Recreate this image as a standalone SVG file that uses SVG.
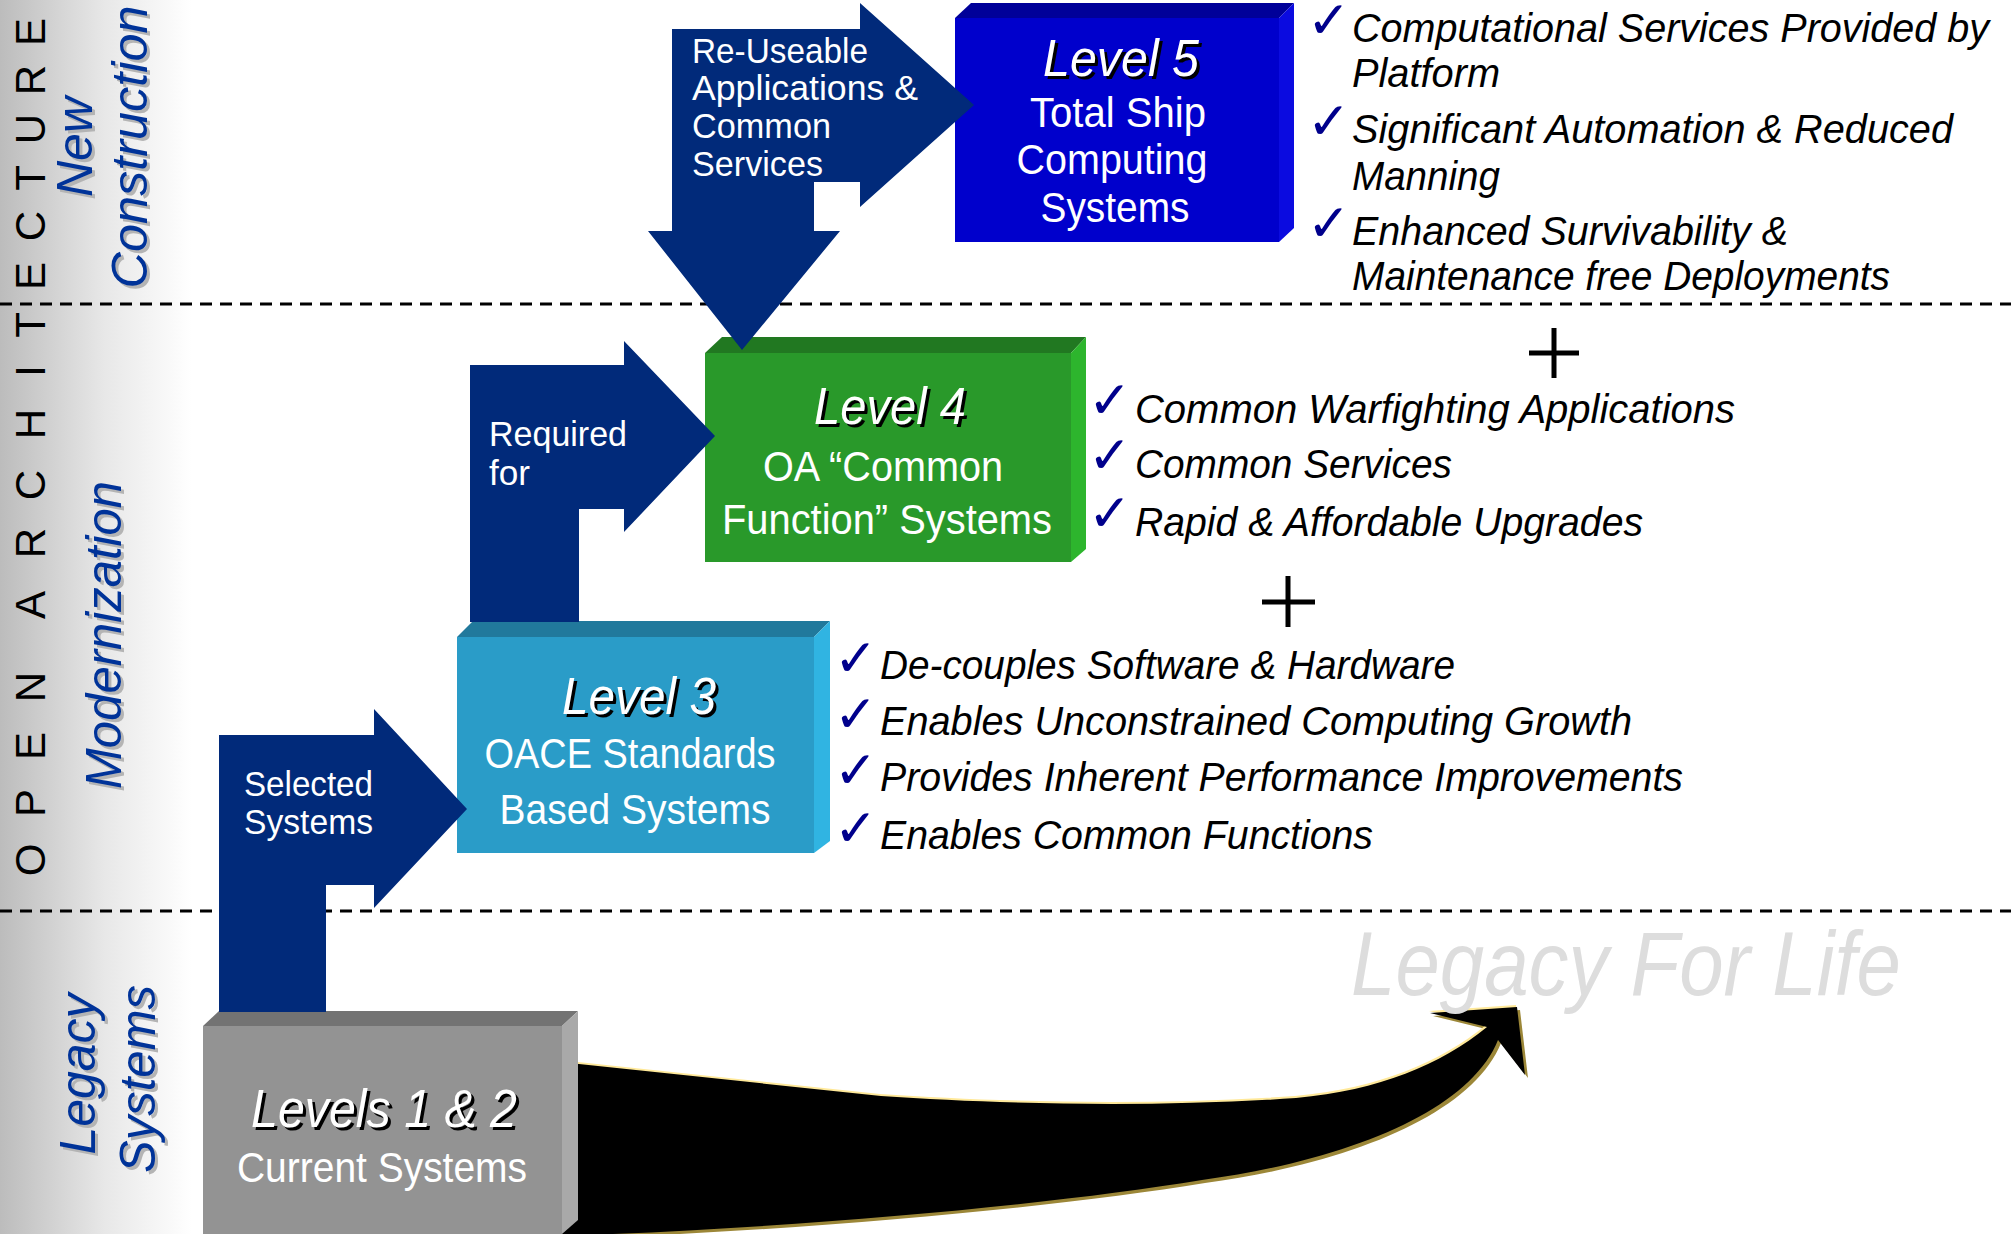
<svg xmlns="http://www.w3.org/2000/svg" width="2011" height="1234" viewBox="0 0 2011 1234">
<defs>
<linearGradient id="band" x1="0" y1="0" x2="1" y2="0">
<stop offset="0" stop-color="#bcbcbc"/>
<stop offset="0.55" stop-color="#e8e8e8"/>
<stop offset="1" stop-color="#ffffff"/>
</linearGradient>
<path id="curve" d="M 560,1062 L 881,1096 C 1000,1104 1150,1108 1296,1098 C 1380,1090 1440,1065 1487,1027 L 1430,1013 L 1517,1007 L 1525,1075 L 1498,1040 C 1470,1110 1350,1160 1202,1180 C 1050,1205 800,1228 560,1236 Z"/>
</defs>
<style>
text{font-family:'Liberation Sans',Arial,Helvetica,sans-serif}
.w{fill:#ffffff}
.sh{fill:#000000}
.it{font-style:italic}
.title{font-size:52px;font-style:italic}
.body{font-size:42px}
.arr{font-size:35px;fill:#ffffff}
.bul{font-size:40px;font-style:italic;fill:#000000}
.chk{font-family:'DejaVu Sans',sans-serif;font-size:52px;fill:#00008c}
.side{font-size:50px;font-style:italic;fill:#003399}
.sideS{font-size:50px;font-style:italic;fill:#b4b4b4}
.dash{stroke:#000000;stroke-width:3;stroke-dasharray:12 8;fill:none}
.plus{stroke:#000000;stroke-width:5;fill:none}
.conn{fill:#012a7a}
</style>

<rect x="0" y="0" width="2011" height="1234" fill="#ffffff"/>
<rect x="0" y="0" width="192" height="1234" fill="url(#band)"/>

<g id="side-labels">
<text transform="translate(45,0) rotate(-90)" font-size="42" fill="#000000" text-anchor="middle" x="-860 -803 -746 -687 -646 -605 -543 -485 -424 -371 -325 -276 -226 -178 -129 -80 -32">OPEN ARCHITECTURE</text>
<g transform="translate(95,150) rotate(-90)"><text class="sideS" text-anchor="middle" textLength="100" lengthAdjust="spacingAndGlyphs">New</text></g>
<g transform="translate(92,147) rotate(-90)"><text class="side" text-anchor="middle" textLength="100" lengthAdjust="spacingAndGlyphs">New</text></g>
<g transform="translate(150,150) rotate(-90)"><text class="sideS" text-anchor="middle" textLength="283" lengthAdjust="spacingAndGlyphs">Construction</text></g>
<g transform="translate(147,147) rotate(-90)"><text class="side" text-anchor="middle" textLength="283" lengthAdjust="spacingAndGlyphs">Construction</text></g>
<g transform="translate(124,638) rotate(-90)"><text class="sideS" text-anchor="middle" textLength="308" lengthAdjust="spacingAndGlyphs">Modernization</text></g>
<g transform="translate(121,635) rotate(-90)"><text class="side" text-anchor="middle" textLength="308" lengthAdjust="spacingAndGlyphs">Modernization</text></g>
<g transform="translate(98,1077) rotate(-90)"><text class="sideS" text-anchor="middle" textLength="161" lengthAdjust="spacingAndGlyphs">Legacy</text></g>
<g transform="translate(95,1074) rotate(-90)"><text class="side" text-anchor="middle" textLength="161" lengthAdjust="spacingAndGlyphs">Legacy</text></g>
<g transform="translate(158,1082) rotate(-90)"><text class="sideS" text-anchor="middle" textLength="188" lengthAdjust="spacingAndGlyphs">Systems</text></g>
<g transform="translate(155,1079) rotate(-90)"><text class="side" text-anchor="middle" textLength="188" lengthAdjust="spacingAndGlyphs">Systems</text></g>
</g>

<g id="dividers">
<line class="dash" x1="0" y1="304" x2="2011" y2="304"/>
<line class="dash" x1="0" y1="911" x2="2011" y2="911"/>
</g>

<g id="legacy-arrow">
<use href="#curve" transform="translate(3,3)" fill="#9c8738"/>
<use href="#curve" transform="translate(-1,-2)" fill="#ffe99a"/>
<use href="#curve" fill="#000000"/>
<text class="it" x="1351" y="995" font-size="90" fill="#dddddd" textLength="550" lengthAdjust="spacingAndGlyphs">Legacy For Life</text>
</g>

<g id="level5">
<polygon points="955,18 1279,18 1279,242 955,242" fill="#0000cc"/>
<polygon points="955,18 971,3 1294,3 1279,18" fill="#000099"/>
<polygon points="1279,18 1294,3 1294,228 1279,242" fill="#0b0be0"/>
<text class="title sh" x="1124" y="79" text-anchor="middle" textLength="156" lengthAdjust="spacingAndGlyphs">Level 5</text>
<text class="title w" x="1121" y="76" text-anchor="middle" textLength="156" lengthAdjust="spacingAndGlyphs">Level 5</text>
<text class="body w" x="1118" y="127" text-anchor="middle" textLength="176" lengthAdjust="spacingAndGlyphs">Total Ship</text>
<text class="body w" x="1112" y="174" text-anchor="middle" textLength="191" lengthAdjust="spacingAndGlyphs">Computing</text>
<text class="body w" x="1115" y="222" text-anchor="middle" textLength="149" lengthAdjust="spacingAndGlyphs">Systems</text>
</g>

<g id="level4">
<polygon points="705,353 1071,353 1071,562 705,562" fill="#29992a"/>
<polygon points="705,353 722,337 1086,337 1071,353" fill="#217821"/>
<polygon points="1071,353 1086,337 1086,549 1071,562" fill="#2db52d"/>
<text class="title sh" x="893" y="427" text-anchor="middle" textLength="152" lengthAdjust="spacingAndGlyphs">Level 4</text>
<text class="title w" x="890" y="424" text-anchor="middle" textLength="152" lengthAdjust="spacingAndGlyphs">Level 4</text>
<text class="body w" x="883" y="481" text-anchor="middle" textLength="240" lengthAdjust="spacingAndGlyphs">OA “Common</text>
<text class="body w" x="887" y="534" text-anchor="middle" textLength="330" lengthAdjust="spacingAndGlyphs">Function” Systems</text>
</g>

<g id="level3">
<polygon points="457,637 814,637 814,853 457,853" fill="#2a9cc8"/>
<polygon points="457,637 473,621 830,621 814,637" fill="#21799c"/>
<polygon points="814,637 830,621 830,841 814,853" fill="#30b4e2"/>
<text class="title sh" x="642" y="717" text-anchor="middle" textLength="154" lengthAdjust="spacingAndGlyphs">Level 3</text>
<text class="title w" x="639" y="714" text-anchor="middle" textLength="154" lengthAdjust="spacingAndGlyphs">Level 3</text>
<text class="body w" x="630" y="768" text-anchor="middle" textLength="291" lengthAdjust="spacingAndGlyphs">OACE Standards</text>
<text class="body w" x="635" y="824" text-anchor="middle" textLength="271" lengthAdjust="spacingAndGlyphs">Based Systems</text>
</g>

<g id="level12">
<polygon points="203,1026 562,1026 562,1234 203,1234" fill="#939393"/>
<polygon points="203,1026 219,1011 578,1011 562,1026" fill="#737373"/>
<polygon points="562,1026 578,1011 578,1220 562,1234" fill="#a9a9a9"/>
<text class="sh it" x="387" y="1130" font-size="54" text-anchor="middle" textLength="266" lengthAdjust="spacingAndGlyphs">Levels 1 &amp; 2</text>
<text class="w it" x="384" y="1127" font-size="54" text-anchor="middle" textLength="266" lengthAdjust="spacingAndGlyphs">Levels 1 &amp; 2</text>
<text class="body w" x="382" y="1182" text-anchor="middle" textLength="290" lengthAdjust="spacingAndGlyphs">Current Systems</text>
</g>

<g id="connectors">
<polygon class="conn" points="672,29 860,29 860,3 974,105 860,207 860,182 814,182 814,231 840,231 742,350 648,231 672,231"/>
<polygon class="conn" points="470,365 624,365 624,341 715,436 624,532 624,509 579,509 579,622 470,622"/>
<polygon class="conn" points="219,735 374,735 374,709 467,809 374,908 374,885 326,885 326,1012 219,1012"/>
<text class="arr" x="692" y="63" textLength="176" lengthAdjust="spacingAndGlyphs">Re-Useable</text>
<text class="arr" x="692" y="100" textLength="226" lengthAdjust="spacingAndGlyphs">Applications &amp;</text>
<text class="arr" x="692" y="138" textLength="139" lengthAdjust="spacingAndGlyphs">Common</text>
<text class="arr" x="692" y="176" textLength="131" lengthAdjust="spacingAndGlyphs">Services</text>
<text class="arr" x="489" y="446" textLength="138" lengthAdjust="spacingAndGlyphs">Required</text>
<text class="arr" x="489" y="485" textLength="41" lengthAdjust="spacingAndGlyphs">for</text>
<text class="arr" x="244" y="796" textLength="129" lengthAdjust="spacingAndGlyphs">Selected</text>
<text class="arr" x="244" y="834" textLength="129" lengthAdjust="spacingAndGlyphs">Systems</text>
</g>

<g id="bullets-level5">
<text class="chk" x="1307" y="38">✓</text>
<text class="chk" x="1307" y="139">✓</text>
<text class="chk" x="1307" y="241">✓</text>
<text class="bul" x="1352" y="42" textLength="637" lengthAdjust="spacingAndGlyphs">Computational Services Provided by</text>
<text class="bul" x="1352" y="87" textLength="148" lengthAdjust="spacingAndGlyphs">Platform</text>
<text class="bul" x="1352" y="143" textLength="601" lengthAdjust="spacingAndGlyphs">Significant Automation &amp; Reduced</text>
<text class="bul" x="1352" y="190" textLength="148" lengthAdjust="spacingAndGlyphs">Manning</text>
<text class="bul" x="1352" y="245" textLength="436" lengthAdjust="spacingAndGlyphs">Enhanced Survivability &amp;</text>
<text class="bul" x="1352" y="290" textLength="538" lengthAdjust="spacingAndGlyphs">Maintenance free Deployments</text>
</g>

<g id="bullets-level4">
<path class="plus" d="M1529,353 H1579 M1554,328 V378"/>
<text class="chk" x="1088" y="418">✓</text>
<text class="chk" x="1088" y="473">✓</text>
<text class="chk" x="1088" y="531">✓</text>
<text class="bul" x="1135" y="423" textLength="600" lengthAdjust="spacingAndGlyphs">Common Warfighting Applications</text>
<text class="bul" x="1135" y="478" textLength="317" lengthAdjust="spacingAndGlyphs">Common Services</text>
<text class="bul" x="1135" y="536" textLength="508" lengthAdjust="spacingAndGlyphs">Rapid &amp; Affordable Upgrades</text>
</g>

<g id="bullets-level3">
<path class="plus" d="M1262,602 H1315 M1288,576 V627"/>
<text class="chk" x="834" y="676">✓</text>
<text class="chk" x="834" y="732">✓</text>
<text class="chk" x="834" y="788">✓</text>
<text class="chk" x="834" y="846">✓</text>
<text class="bul" x="880" y="679" textLength="575" lengthAdjust="spacingAndGlyphs">De-couples Software &amp; Hardware</text>
<text class="bul" x="880" y="735" textLength="752" lengthAdjust="spacingAndGlyphs">Enables Unconstrained Computing Growth</text>
<text class="bul" x="880" y="791" textLength="803" lengthAdjust="spacingAndGlyphs">Provides Inherent Performance Improvements</text>
<text class="bul" x="880" y="849" textLength="493" lengthAdjust="spacingAndGlyphs">Enables Common Functions</text>
</g>
</svg>
